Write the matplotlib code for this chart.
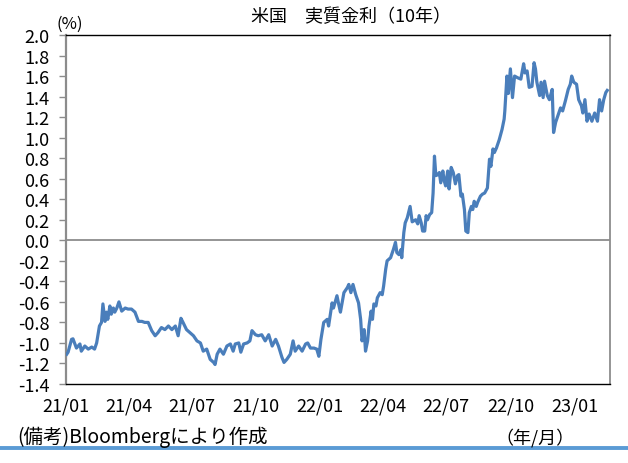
import matplotlib
matplotlib.use("Agg")
import matplotlib.pyplot as plt
import matplotlib.dates as mdates
import pandas as pd
import numpy as np

plt.rcParams['font.family'] = ['Noto Sans CJK JP', 'DejaVu Sans']
plt.rcParams['axes.unicode_minus'] = False

title = "米国　実質金利（10年）"
unit_label = "(%)"
note = "(備考)Bloombergにより作成"
axis_note = "（年/月）"

dates = [
    "2021-01-02", "2021-01-04", "2021-01-09", "2021-01-11", "2021-01-16", "2021-01-21", "2021-01-23",
    "2021-01-28", "2021-02-02", "2021-02-07", "2021-02-11", "2021-02-14", "2021-02-18", "2021-02-21",
    "2021-02-23", "2021-02-26", "2021-02-28", "2021-03-02", "2021-03-05", "2021-03-07", "2021-03-10",
    "2021-03-12", "2021-03-15", "2021-03-18", "2021-03-22", "2021-03-27", "2021-03-31", "2021-04-05",
    "2021-04-10", "2021-04-15", "2021-04-20", "2021-04-24", "2021-04-29", "2021-05-04", "2021-05-09",
    "2021-05-13", "2021-05-18", "2021-05-23", "2021-05-28", "2021-06-02", "2021-06-07", "2021-06-11",
    "2021-06-15", "2021-06-18", "2021-06-23", "2021-06-28", "2021-07-03", "2021-07-08", "2021-07-13",
    "2021-07-17", "2021-07-22", "2021-07-27", "2021-08-01", "2021-08-03", "2021-08-06", "2021-08-10",
    "2021-08-15", "2021-08-20", "2021-08-25", "2021-08-29", "2021-09-01", "2021-09-06", "2021-09-09",
    "2021-09-13", "2021-09-18", "2021-09-22", "2021-09-25", "2021-09-30", "2021-10-04", "2021-10-09",
    "2021-10-14", "2021-10-19", "2021-10-24", "2021-10-29", "2021-11-02", "2021-11-07", "2021-11-10",
    "2021-11-14", "2021-11-19", "2021-11-23", "2021-11-26", "2021-12-01", "2021-12-06", "2021-12-11",
    "2021-12-14", "2021-12-18", "2021-12-23", "2021-12-27", "2021-12-30", "2022-01-02", "2022-01-06",
    "2022-01-11", "2022-01-13", "2022-01-18", "2022-01-20", "2022-01-25", "2022-01-28", "2022-01-30",
    "2022-02-04", "2022-02-09", "2022-02-11", "2022-02-14", "2022-02-17", "2022-02-21", "2022-02-25",
    "2022-02-28", "2022-03-02", "2022-03-05", "2022-03-07", "2022-03-10", "2022-03-12", "2022-03-15",
    "2022-03-17", "2022-03-19", "2022-03-22", "2022-03-24", "2022-03-28", "2022-03-31", "2022-04-02",
    "2022-04-05", "2022-04-07", "2022-04-12", "2022-04-16", "2022-04-19", "2022-04-21", "2022-04-24",
    "2022-04-27", "2022-04-28", "2022-05-01", "2022-05-03", "2022-05-06", "2022-05-10", "2022-05-13",
    "2022-05-18", "2022-05-21", "2022-05-23", "2022-05-26", "2022-05-28", "2022-05-31", "2022-06-02",
    "2022-06-04", "2022-06-07", "2022-06-10", "2022-06-12", "2022-06-14", "2022-06-16", "2022-06-19",
    "2022-06-21", "2022-06-23", "2022-06-26", "2022-06-28", "2022-06-30", "2022-07-03", "2022-07-05",
    "2022-07-08", "2022-07-11", "2022-07-14", "2022-07-17", "2022-07-19", "2022-07-22", "2022-07-24",
    "2022-07-27", "2022-07-29", "2022-08-01", "2022-08-03", "2022-08-06", "2022-08-08", "2022-08-10",
    "2022-08-13", "2022-08-15", "2022-08-19", "2022-08-22", "2022-08-25", "2022-08-29", "2022-09-01",
    "2022-09-03", "2022-09-06", "2022-09-08", "2022-09-11", "2022-09-15", "2022-09-19", "2022-09-22",
    "2022-09-23", "2022-09-26", "2022-09-28", "2022-10-01", "2022-10-04", "2022-10-07", "2022-10-11",
    "2022-10-16", "2022-10-20", "2022-10-22", "2022-10-25", "2022-10-28", "2022-11-01", "2022-11-04",
    "2022-11-06", "2022-11-08", "2022-11-12", "2022-11-14", "2022-11-17", "2022-11-19", "2022-11-23",
    "2022-11-26", "2022-11-30", "2022-12-02", "2022-12-05", "2022-12-08", "2022-12-12", "2022-12-15",
    "2022-12-19", "2022-12-23", "2022-12-26", "2022-12-28", "2022-12-31", "2023-01-04", "2023-01-07",
    "2023-01-11", "2023-01-13", "2023-01-16", "2023-01-19", "2023-01-22", "2023-01-26", "2023-01-30",
    "2023-02-03", "2023-02-06", "2023-02-09", "2023-02-12", "2023-02-15", "2023-02-17",
]

values = [
    -1.11, -1.09, -0.965, -0.96, -1.05, -1.01, -1.08,
    -1.03, -1.06, -1.04, -1.06, -1.00, -0.835, -0.80,
    -0.62, -0.79, -0.70, -0.77, -0.64, -0.72, -0.66,
    -0.70, -0.66, -0.60, -0.69, -0.66, -0.67, -0.67,
    -0.70, -0.79, -0.79, -0.80, -0.80, -0.88, -0.93,
    -0.90, -0.85, -0.87, -0.835, -0.87, -0.835, -0.93,
    -0.76, -0.80, -0.87, -0.90, -0.93, -0.98, -1.00,
    -1.08, -1.06, -1.16, -1.19, -1.21, -1.11, -1.06,
    -1.11, -1.03, -1.01, -1.08, -1.01, -1.00, -1.09,
    -1.01, -1.00, -0.98, -0.88, -0.92, -0.93, -0.92,
    -0.98, -0.92, -1.03, -0.965, -1.03, -1.14, -1.19,
    -1.16, -1.11, -0.98, -1.08, -1.03, -1.08, -1.01,
    -1.00, -1.05, -1.05, -1.06, -1.13, -0.965, -0.80,
    -0.77, -0.835, -0.61, -0.66, -0.54, -0.64, -0.70,
    -0.51, -0.46, -0.43, -0.51, -0.43, -0.53, -0.61,
    -0.77, -0.98, -0.87, -1.08, -0.98, -0.835, -0.69,
    -0.77, -0.62, -0.64, -0.56, -0.51, -0.53, -0.445,
    -0.28, -0.20, -0.17, -0.09, -0.02, -0.12, -0.14,
    -0.09, -0.17, 0.075, 0.17, 0.22, 0.33, 0.18,
    0.20, 0.16, 0.24, 0.17, 0.09, 0.09, 0.24,
    0.20, 0.25, 0.27, 0.46, 0.82, 0.63, 0.64,
    0.66, 0.56, 0.675, 0.58, 0.53, 0.675, 0.50,
    0.71, 0.66, 0.55, 0.63, 0.64, 0.43, 0.45,
    0.30, 0.09, 0.075, 0.27, 0.33, 0.30, 0.38,
    0.33, 0.37, 0.43, 0.45, 0.46, 0.51, 0.79,
    0.72, 0.89, 0.855, 0.90, 0.98, 1.08, 1.18,
    1.26, 1.60, 1.43, 1.67, 1.39, 1.60, 1.585,
    1.57, 1.72, 1.63, 1.65, 1.49, 1.50, 1.73,
    1.67, 1.54, 1.41, 1.54, 1.39, 1.55, 1.41,
    1.37, 1.47, 1.05, 1.15, 1.21, 1.29, 1.26,
    1.36, 1.47, 1.52, 1.60, 1.54, 1.52, 1.37,
    1.31, 1.24, 1.37, 1.16, 1.23, 1.16, 1.24,
    1.16, 1.37, 1.26, 1.37, 1.44, 1.46,
]

xticks = ["2021-01-01", "2021-04-01", "2021-07-01", "2021-10-01", "2022-01-01",
          "2022-04-01", "2022-07-01", "2022-10-01", "2023-01-01"]
yticks = [-1.4, -1.2, -1.0, -0.8, -0.6, -0.4, -0.2, 0.0, 0.2, 0.4, 0.6, 0.8,
          1.0, 1.2, 1.4, 1.6, 1.8, 2.0]

x = pd.to_datetime(dates)

fig = plt.figure(figsize=(6.28, 4.64), dpi=100)
ax = fig.add_axes([66/628, 1-385/464, (610-66)/628, (385-36)/464])

ax.axhline(0, color="#8c8c8c", lw=1.3, zorder=1)
ax.plot(x, values, color="#4a7ebb", lw=2.3, zorder=3, solid_joinstyle="round")

ax.set_xlim(pd.Timestamp("2021-01-01"), pd.Timestamp("2023-02-21"))
ax.set_ylim(-1.4, 2.0)
ax.set_yticks(yticks)
ax.set_yticklabels([f"{v:.1f}" for v in yticks])
ax.set_xticks(pd.to_datetime(xticks))
ax.xaxis.set_major_formatter(mdates.DateFormatter("%y/%m"))

ax.tick_params(axis="y", direction="out", length=5, width=1, color="#8c8c8c",
               labelsize=13, pad=7)
ax.tick_params(axis="x", length=0, labelsize=13, pad=9)

ax.spines["left"].set_color("#8c8c8c")
ax.spines["left"].set_linewidth(1.6)
ax.spines["right"].set_color("#8c8c8c")
ax.spines["right"].set_linewidth(1.3)
ax.spines["top"].set_color("black")
ax.spines["top"].set_linewidth(1.0)
ax.spines["bottom"].set_color("black")
ax.spines["bottom"].set_linewidth(1.0)

fig.text(351/628, 1-17/464, title, ha="center", va="center", fontsize=13)
fig.text(70/628, 1-24/464, unit_label, ha="center", va="center", fontsize=12)
fig.text(17/628, 1-437/464, note, ha="left", va="center", fontsize=14)
fig.text(495/628, 1-438/464, axis_note, ha="left", va="center", fontsize=13)

fig.add_artist(plt.Line2D([0, 1], [1-449/464, 1-449/464], color="#5b9bd5", lw=2.8,
                          transform=fig.transFigure))

fig.savefig("out.png", dpi=100)
